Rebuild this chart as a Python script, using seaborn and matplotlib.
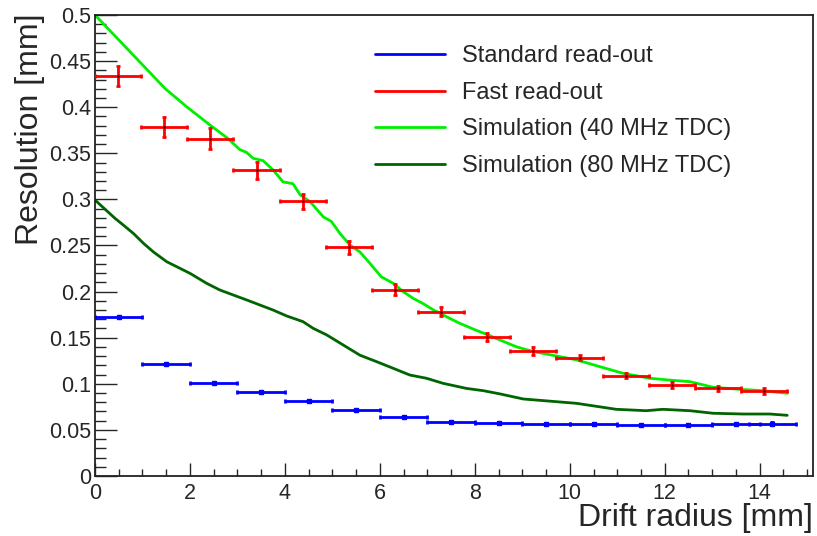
import matplotlib
matplotlib.use("Agg")
import matplotlib.pyplot as plt
from matplotlib.ticker import MultipleLocator, FuncFormatter
from matplotlib.lines import Line2D
import seaborn as sns
import pandas as pd

# Standard read-out (blue), bins of 1 mm
std_x = [0.5, 1.5, 2.5, 3.5, 4.5, 5.5, 6.5, 7.5, 8.5, 9.5, 10.5, 11.5, 12.5, 13.5, 14.27]
std_y = [0.1728, 0.1215, 0.1012, 0.0915, 0.0813, 0.0716, 0.0643, 0.0589, 0.0578,
         0.0561, 0.0561, 0.0553, 0.0557, 0.0561, 0.0568]
std_xerr = [0.5] * 15
std_yerr = [0.0012] * 15

# Fast read-out (red), bins of ~0.972 mm
fast_x = [0.486, 1.458, 2.430, 3.402, 4.374, 5.346, 6.318, 7.290, 8.262,
          9.234, 10.206, 11.178, 12.150, 13.122, 14.094]
fast_y = [0.434, 0.3785, 0.3659, 0.3315, 0.298, 0.248, 0.202, 0.178, 0.1508,
          0.1356, 0.1283, 0.1088, 0.0987, 0.0951, 0.0922]
fast_yerr = [0.011, 0.011, 0.011, 0.0094, 0.008, 0.007, 0.006, 0.005, 0.004,
             0.004, 0.003, 0.003, 0.003, 0.003, 0.003]
fast_xerr = [0.486] * 15

# Simulation 40 MHz TDC (light green)
sim40_x = [0.0, 0.5, 1.0, 1.47, 1.93, 2.42, 2.80, 3.05, 3.19, 3.33, 3.54, 3.75,
           3.96, 4.17, 4.32, 4.53, 4.81, 4.98, 5.16, 5.37, 5.58, 5.79, 6.03, 6.28,
           6.49, 6.70, 6.91, 7.13, 7.40, 7.68, 8.03, 8.18, 8.88, 9.23, 10.14,
           10.63, 11.12, 11.68, 12.10, 12.53, 13.02, 13.58, 14.07, 14.58]
sim40_y = [0.500, 0.473, 0.446, 0.4205, 0.4005, 0.3807, 0.366, 0.354, 0.351,
           0.3446, 0.342, 0.332, 0.319, 0.317, 0.305, 0.2975, 0.281, 0.276,
           0.263, 0.2505, 0.243, 0.2307, 0.216, 0.209, 0.200, 0.1927, 0.187,
           0.180, 0.1728, 0.1656, 0.158, 0.155, 0.140, 0.135, 0.126, 0.1186,
           0.1114, 0.106, 0.104, 0.1023, 0.0962, 0.094, 0.0925, 0.0897]

# Simulation 80 MHz TDC (dark green)
sim80_x = [0.0, 0.42, 0.60, 0.81, 1.02, 1.23, 1.51, 1.72, 2.00, 2.35, 2.63, 2.98,
           3.19, 3.47, 3.75, 4.04, 4.38, 4.60, 4.88, 5.23, 5.58, 5.93, 6.28, 6.63,
           6.98, 7.33, 7.82, 8.18, 8.53, 9.02, 10.14, 10.98, 11.61, 11.96, 12.53,
           13.02, 13.65, 14.21, 14.58]
sim80_y = [0.2993, 0.2795, 0.272, 0.263, 0.2524, 0.243, 0.2324, 0.227, 0.2198,
           0.209, 0.2017, 0.195, 0.191, 0.1855, 0.180, 0.1735, 0.1674, 0.160,
           0.153, 0.142, 0.131, 0.124, 0.1168, 0.1095, 0.106, 0.1005, 0.095,
           0.0925, 0.089, 0.0835, 0.0788, 0.0723, 0.0708, 0.0723, 0.0708, 0.068,
           0.0672, 0.0672, 0.0658]

labels = ["Standard read-out", "Fast read-out",
          "Simulation (40 MHz TDC)", "Simulation (80 MHz TDC)"]
colors = ["#0000ff", "#ff0000", "#00ee00", "#006400"]

sns.set_style("white")
plt.rcParams['font.family'] = ['Liberation Sans', 'DejaVu Sans']

fig = plt.figure(figsize=(8.17, 5.36), dpi=100)
ax = fig.add_axes([0.1163, 0.112, 0.8792, 0.860])

df40 = pd.DataFrame({"x": sim40_x, "y": sim40_y})
df80 = pd.DataFrame({"x": sim80_x, "y": sim80_y})
sns.lineplot(data=df40, x="x", y="y", ax=ax, color=colors[2], lw=2, sort=False,
             zorder=2)
sns.lineplot(data=df80, x="x", y="y", ax=ax, color=colors[3], lw=2, sort=False,
             zorder=2)

ax.errorbar(std_x, std_y, xerr=std_xerr, yerr=std_yerr, fmt='s', ms=2.5,
            color=colors[0], ecolor=colors[0], elinewidth=2, capsize=1.5,
            capthick=2, zorder=3)
ax.errorbar(fast_x, fast_y, xerr=fast_xerr, yerr=fast_yerr, fmt='.', ms=1,
            color='black', ecolor=colors[1], elinewidth=2, capsize=1.5,
            capthick=2, zorder=3)

ax.set_xlim(0, 15.13)
ax.set_ylim(0, 0.5)
ax.set_xlabel("")
ax.set_ylabel("")

ax.xaxis.set_major_locator(MultipleLocator(2))
ax.xaxis.set_minor_locator(MultipleLocator(0.5))
ax.yaxis.set_major_locator(MultipleLocator(0.05))
ax.yaxis.set_minor_locator(MultipleLocator(0.01))
ax.yaxis.set_major_formatter(FuncFormatter(lambda v, p: "%g" % round(v, 3)))
ax.xaxis.set_major_formatter(FuncFormatter(lambda v, p: "%g" % round(v, 3)))

ax.tick_params(axis='x', which='major', direction='in', length=9.5, width=1,
               labelsize=15.5, pad=5, bottom=True, top=False)
ax.tick_params(axis='x', which='minor', direction='in', length=4.7, width=1,
               bottom=True, top=False)
ax.tick_params(axis='y', which='major', direction='in', length=15.8, width=1,
               labelsize=15.5, pad=3, left=True, right=False)
ax.tick_params(axis='y', which='minor', direction='in', length=7.9, width=1,
               left=True, right=False)
for s in ax.spines.values():
    s.set_color('#222222')
    s.set_linewidth(1.3)

# legend: lines only
handles = [Line2D([], [], color=c, lw=2) for c in colors]
ax.legend(handles, labels, loc='upper left', bbox_to_anchor=(0.377, 0.955),
          frameon=False, fontsize=17, handlelength=2.97, handletextpad=0.72,
          labelspacing=0.62, borderaxespad=0)

fig.text(0.037, 0.975, "Resolution [mm]", rotation=90, ha='center', va='top',
         fontsize=23)
fig.text(0.995, 0.005, "Drift radius [mm]", ha='right', va='bottom',
         fontsize=23)

fig.savefig("out.png", dpi=100)
